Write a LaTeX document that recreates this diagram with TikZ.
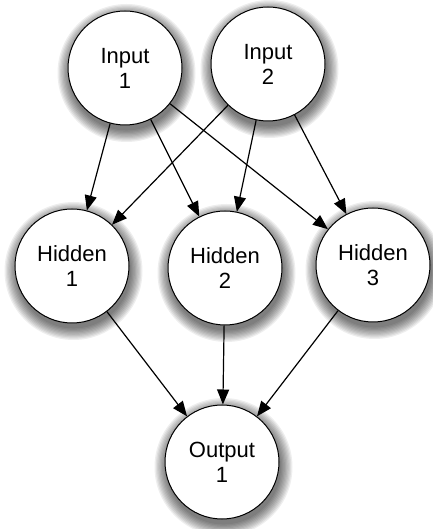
\documentclass[tikz,border=0pt]{standalone}
\usepackage{fontspec}
\setmainfont{Liberation Sans}
\usetikzlibrary{arrows.meta}
\begin{document}
\begin{tikzpicture}[x=1pt,y=1pt,
  neuron/.style={circle, draw=black, line width=1pt, fill=white,
    minimum size=114pt, inner sep=0pt, align=center,
    font=\fontsize{22}{25}\selectfont},
  link/.style={line width=1.2pt, -{Triangle[length=15pt,width=12pt]}}
]
\useasboundingbox (0,0) rectangle (432,529);
\fill[white] (0,0) rectangle (432,529);

% soft shadows under each neuron, built from stacked translucent discs
\foreach \p in {(125,461),(268,465),(72,263),(225,261),(373,264),(222,67)}{
  \foreach \k in {1,...,10}{
    \fill[black, opacity=0.065] \p ++(1.5,-5) circle ({56+1.3*\k});
  }
}

\node[neuron] (i1) at (125,461) {Input\\1};
\node[neuron] (i2) at (268,465) {Input\\2};
\node[neuron] (h1) at (72,263) {Hidden\\1};
\node[neuron] (h2) at (225,261) {Hidden\\2};
\node[neuron] (h3) at (373,264) {Hidden\\3};
\node[neuron] (o1) at (222,67) {Output\\1};

\draw[link] (i1) -- (h1);
\draw[link] (i1) -- (h2);
\draw[link] (i1) -- (h3);
\draw[link] (i2) -- (h1);
\draw[link] (i2) -- (h2);
\draw[link] (i2) -- (h3);
\draw[link] (h1) -- (o1);
\draw[link] (h2) -- (o1);
\draw[link] (h3) -- (o1);
\end{tikzpicture}
\end{document}
